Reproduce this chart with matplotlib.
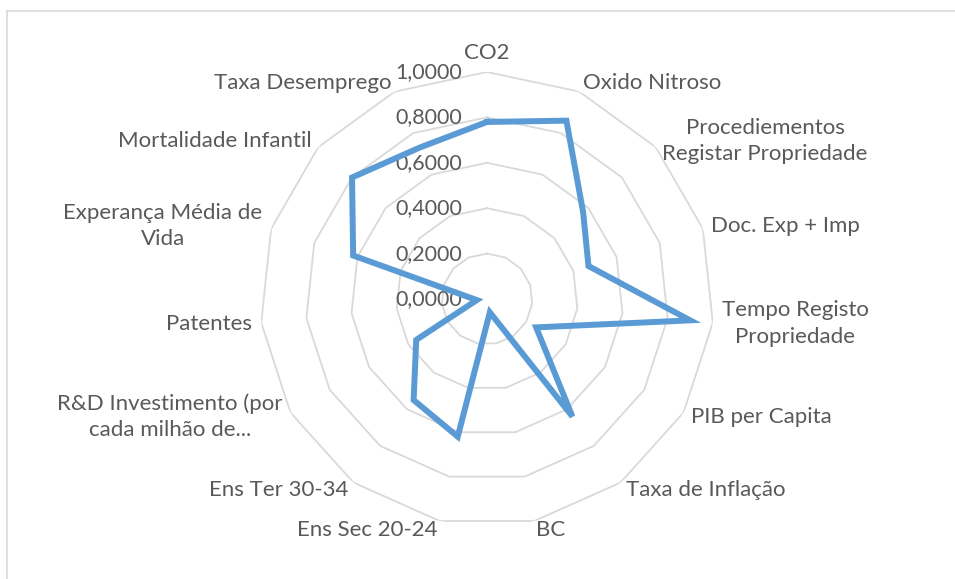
import numpy as np
import matplotlib
matplotlib.use('Agg')
from matplotlib import pyplot as plt
from matplotlib.lines import Line2D

# categories, clockwise from the top
categories = ['CO2', 'Oxido Nitroso', 'Procediementos\nRegistar Propriedade',
              'Doc. Exp + Imp', 'Tempo Registo\nPropriedade', 'PIB per Capita',
              'Taxa de Inflação', 'BC', 'Ens Sec 20-24', 'Ens Ter 30-34',
              'R&D Investimento (por\ncada milhão de...', 'Patentes',
              'Experança Média de\nVida', 'Mortalidade Infantil', 'Taxa Desemprego']
values = [0.78, 0.86, 0.57, 0.47, 0.90, 0.25, 0.64, 0.06,
          0.62, 0.55, 0.36, 0.045, 0.62, 0.80, 0.73]
ticks = [0.0, 0.2, 0.4, 0.6, 0.8, 1.0]
tick_labels = ['0,0000', '0,2000', '0,4000', '0,6000', '0,8000', '1,0000']

TEXT = '#595959'
GRID = '#d9d9d9'
LINE = '#5b9bd5'
plt.rcParams['font.family'] = ['Lato', 'DejaVu Sans']

W, H = 955, 579
fig = plt.figure(figsize=(W / 100, H / 100), dpi=100)
fig.patch.set_facecolor('white')

# chart border (only top and left visible in the crop)
fig.add_artist(Line2D([7 / W, 1], [1 - 11 / H, 1 - 11 / H], color=GRID, lw=1.2))
fig.add_artist(Line2D([7 / W, 7 / W], [0, 1 - 11 / H], color=GRID, lw=1.2))

cx, cy, R = 487, 299, 227
ax = fig.add_axes([(cx - R) / W, (H - cy - R) / H, 2 * R / W, 2 * R / H], projection='polar')
ax.set_theta_zero_location('N')
ax.set_theta_direction(-1)
ax.set_ylim(0, 1)
ax.grid(False)
ax.spines['polar'].set_visible(False)
ax.set_xticks([])
ax.set_yticks([])
ax.patch.set_alpha(0)

n = len(categories)
theta = np.arange(n) * 2 * np.pi / n
theta_c = np.append(theta, theta[0])

# polygon grid rings
for t in ticks[1:]:
    ax.plot(theta_c, [t] * (n + 1), color=GRID, lw=1.3, zorder=1)

# value axis labels
for t, lab in zip(ticks, tick_labels):
    ax.annotate(lab, xy=(0, t), xytext=(-25, 0), textcoords='offset pixels',
                ha='right', va='center', fontsize=15.5, color=TEXT)

# data series
vals_c = values + values[:1]
ax.plot(theta_c, vals_c, color=LINE, lw=4.3, solid_joinstyle='miter', zorder=3)

# category labels
for th, lab in zip(theta, categories):
    s, c = np.sin(th), np.cos(th)
    if abs(s) < 0.05:
        ha = 'center'
    elif s > 0:
        ha = 'left'
    else:
        ha = 'right'
    va = 'bottom' if c > 0.99 else 'center'
    ax.annotate(lab, xy=(th, 1.0), xytext=(9 * s, 9 * c), textcoords='offset pixels',
                ha=ha, va=va, multialignment='center', fontsize=16, color=TEXT,
                annotation_clip=False, linespacing=1.4)

fig.savefig('out.png', dpi=100, facecolor='white')
